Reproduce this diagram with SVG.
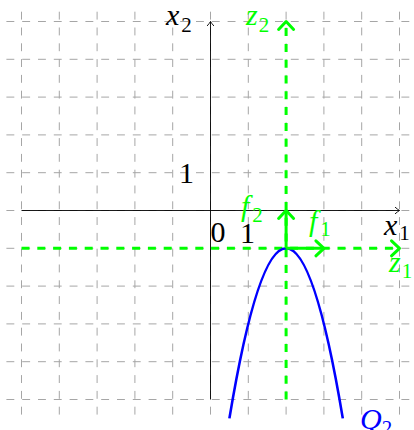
<svg xmlns="http://www.w3.org/2000/svg" width="414" height="430" viewBox="0 0 414 430">
<style>
.grid{fill:none;stroke:#a6a6a6;stroke-width:1;stroke-dasharray:7.9 7.9}
.axis{fill:none;stroke:#000;stroke-width:0.9}
.zax{fill:none;stroke:#00ff00;stroke-width:3;stroke-dasharray:8 7.8}
.vec{fill:none;stroke:#00ff00;stroke-width:3}
.curve{fill:none;stroke:#0000ff;stroke-width:2.6}
.sub{font-style:normal;font-size:21px}
</style>
<defs>
<marker id="ab" markerUnits="userSpaceOnUse" viewBox="-6 -5 7 10" markerWidth="7" markerHeight="10" refX="0" refY="0" orient="auto" overflow="visible">
<path d="M-4.5,-3.4 Q-1.5,-0.8 0,0 Q-1.5,0.8 -4.5,3.4" fill="none" stroke="#000" stroke-width="0.9" stroke-dasharray="none"/>
</marker>
<marker id="ag" markerUnits="userSpaceOnUse" viewBox="-10 -10 12 20" markerWidth="12" markerHeight="20" refX="0" refY="0" orient="auto" overflow="visible">
<path d="M-8,-7.5 L0,0 L-8,7.5" fill="none" stroke="#00ff00" stroke-width="3" stroke-linecap="round" stroke-linejoin="round" stroke-dasharray="none"/>
</marker>
</defs>
<g id="grid">
<path class="grid" d="M6.4,21.5H414.6M6.4,59.3H414.6M6.4,97.1H414.6M6.4,134.9H414.6M6.4,172.7H414.6M6.4,210.5H414.6M6.4,248.3H414.6M6.4,286.1H414.6M6.4,323.9H414.6M6.4,361.7H414.6M6.4,399.5H414.6"/>
<path class="grid" d="M21.5,414.6V6.4M59.3,414.6V6.4M97.1,414.6V6.4M134.9,414.6V6.4M172.7,414.6V6.4M210.5,414.6V6.4M248.3,414.6V6.4M286.1,414.6V6.4M323.9,414.6V6.4M361.7,414.6V6.4M399.5,414.6V6.4"/>
</g>
<g id="connectors">
<path id="x1-axis" class="axis" d="M21.5,210.5H399.5" marker-end="url(#ab)"/>
<path id="x2-axis" class="axis" d="M210.5,399.5V21.5" marker-end="url(#ab)"/>
<path id="z1-axis" class="zax" d="M21.5,248.3H399.5" marker-end="url(#ag)"/>
<path id="z2-axis" class="zax" d="M286.1,399.5V21.5" marker-end="url(#ag)"/>
<path id="Q2-curve" class="curve" d="M229.4,418.4Q286.1,78.2 342.8,418.4"/>
<path id="f1-vec" class="vec" d="M286.1,248.3H323.9" marker-end="url(#ag)"/>
<path id="f2-vec" class="vec" d="M286.1,248.3V210.5" marker-end="url(#ag)"/>
</g>
<g id="labels" font-family="Liberation Serif, Times New Roman, serif" font-size="30">
<g font-style="italic">
<text x="166" y="25">x<tspan class="sub" dx="2" dy="6.5">2</tspan></text>
<text x="246" y="25" fill="#00ff00">z<tspan class="sub" dx="1" dy="6.5">2</tspan></text>
<text x="384" y="235">x<tspan class="sub" dx="2" dy="5">1</tspan></text>
<text x="389" y="271.5" fill="#00ff00">z<tspan class="sub" dx="1" dy="6.5">1</tspan></text>
<text x="309" y="230.5" fill="#00ff00">f<tspan class="sub" dx="3" dy="5.5">1</tspan></text>
<text x="241" y="216" fill="#00ff00">f<tspan class="sub" dx="3" dy="5.5">2</tspan></text>
<text x="360" y="429" fill="#0000ff">Q<tspan class="sub" dx="0" dy="6">2</tspan></text>
</g>
<text x="210.5" y="241.7">0</text>
<text x="247.5" y="242.5" text-anchor="middle">1</text>
<text x="186.5" y="183" text-anchor="middle">1</text>
</g>
</svg>
